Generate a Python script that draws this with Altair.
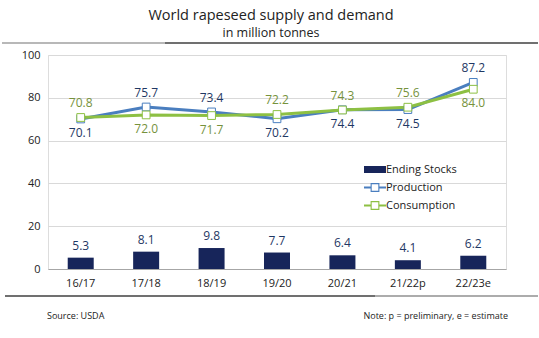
import altair as alt
import pandas as pd

seasons = ["16/17", "17/18", "18/19", "19/20", "20/21", "21/22p", "22/23e"]
ending_stocks = [5.3, 8.1, 9.8, 7.7, 6.4, 4.1, 6.2]
production = [70.1, 75.7, 73.4, 70.2, 74.4, 74.5, 87.2]
consumption = [70.8, 72.0, 71.7, 72.2, 74.3, 75.6, 84.0]
series_names = ["Ending Stocks", "Production", "Consumption"]
y_ticks = [0, 20, 40, 60, 80, 100]

NAVY = "#17255a"
BLUE = "#4a7ebf"
GREEN = "#8dc043"
PROD_TXT = "#1f3864"
CONS_TXT = "#76923c"
FONT = "Open Sans"

df = pd.DataFrame({
    "season": seasons,
    "stocks": ending_stocks,
    "production": production,
    "consumption": consumption,
})

base = alt.Chart(df)
X = alt.X("season:N", sort=seasons, title=None,
          scale=alt.Scale(paddingInner=0.6, paddingOuter=0.3),
          axis=alt.Axis(labelAngle=0, ticks=False, domainColor="#a6a6a6",
                        labelPadding=8, labelFontSize=11, labelFont=FONT,
                        labelColor="#222222", grid=False))
YS = alt.Scale(domain=[0, 100], nice=False)
YAX = alt.Axis(values=y_ticks, title=None, domain=False, ticks=False,
               gridColor="#d9d9d9", labelPadding=8, labelFontSize=11,
               labelFont=FONT, labelColor="#222222")

bars = base.mark_bar(color=NAVY, size=26).encode(
    x=X, y=alt.Y("stocks:Q", scale=YS, axis=YAX))
bar_txt = base.mark_text(dy=-12, baseline="middle", fontSize=12, font=FONT,
                         color=PROD_TXT).encode(
    x=alt.X("season:N", sort=seasons), y=alt.Y("stocks:Q"),
    text=alt.Text("stocks:Q", format=".1f"))

prod_line = base.mark_line(color=BLUE, strokeWidth=3).encode(
    x=alt.X("season:N", sort=seasons), y="production:Q")
cons_line = base.mark_line(color=GREEN, strokeWidth=3).encode(
    x=alt.X("season:N", sort=seasons), y="consumption:Q")
prod_pts = base.mark_point(shape="square", filled=False, fill="white",
                           stroke=BLUE, strokeWidth=1, size=60, opacity=1).encode(
    x=alt.X("season:N", sort=seasons), y="production:Q")
cons_pts = base.mark_point(shape="square", filled=False, fill="white",
                           stroke=GREEN, strokeWidth=1, size=60, opacity=1).encode(
    x=alt.X("season:N", sort=seasons), y="consumption:Q")

above = "datum.production - datum.consumption > 0.5"
below = "datum.production - datum.consumption <= 0.5"

def lbl(field, cond, dy, color):
    return base.transform_filter(cond).mark_text(
        dy=dy, baseline="middle", fontSize=12, font=FONT, color=color).encode(
        x=alt.X("season:N", sort=seasons), y=alt.Y(f"{field}:Q"),
        text=alt.Text(f"{field}:Q", format=".1f"))

prod_up = lbl("production", above, -14, PROD_TXT)
prod_dn = lbl("production", below, 14, PROD_TXT)
cons_up = lbl("consumption", below, -14, CONS_TXT)
cons_dn = lbl("consumption", above, 14, CONS_TXT)

rect_path = "M-2,-0.64H2V0.64H-2Z"
marker_path = ("M-2,-0.2H-0.8V0.2H-2Z M0.8,-0.2H2V0.2H0.8Z "
               "M-0.8,-0.8H0.8V0.8H-0.8Z M-0.6,-0.6V0.6H0.6V-0.6Z")
leg_df = pd.DataFrame({"series": series_names})
leg = alt.Legend(orient="none", legendX=321.5, legendY=109,
                 title=None, symbolSize=121, labelFontSize=11,
                 labelFont=FONT, labelColor="#222222",
                 labelOffset=5.5, rowPadding=6,
                 symbolStrokeWidth=0, padding=0,
                 direction="vertical")
legend_layer = alt.Chart(leg_df).transform_filter("false").mark_point(
    filled=True, opacity=1, strokeWidth=0).encode(
    color=alt.Color("series:N",
                    scale=alt.Scale(domain=series_names, range=[NAVY, BLUE, GREEN]),
                    legend=leg),
    shape=alt.Shape("series:N",
                    scale=alt.Scale(domain=series_names,
                                    range=[rect_path, marker_path, marker_path]),
                    legend=leg),
)

one = pd.DataFrame({"a": [0]})
def rule(x1, x2, y, color):
    return alt.Chart(one).mark_rule(color=color, strokeWidth=1.3).encode(
        x=alt.value(x1), x2=alt.value(x2), y=alt.value(y))

rules = (rule(-46, 117, -12, "#a0a0a0") + rule(117, 490, -12, "#404040")
         + rule(-43, 327, 241, "#404040") + rule(327, 490, 241, "#909090"))

src = alt.Chart(pd.DataFrame({"t": ["Source: USDA"]})).mark_text(
    align="left", baseline="middle", fontSize=9, font=FONT, color="#222222").encode(
    x=alt.value(-1), y=alt.value(261), text="t:N")
note = alt.Chart(pd.DataFrame({"t": ["Note: p = preliminary, e = estimate"]})).mark_text(
    align="right", baseline="middle", fontSize=9, font=FONT, color="#222222").encode(
    x=alt.value(460), y=alt.value(261), text="t:N")

chart = alt.layer(
    bars, bar_txt, prod_line, cons_line, prod_pts, cons_pts,
    prod_up, prod_dn, cons_up, cons_dn, legend_layer, rules, src, note
).properties(
    width=458, height=214,
    title=alt.TitleParams(text="World rapeseed supply and demand",
                          subtitle="in million tonnes", fontSize=14.5,
                          subtitleFontSize=12.5, font=FONT, subtitleFont=FONT,
                          fontWeight="normal", color="#222222",
                          subtitleColor="#222222", anchor="middle", dx=-6,
                          offset=2, subtitlePadding=3),
    autosize=alt.AutoSizeParams(type="none"),
    padding={"left": 48, "top": 55, "right": 33, "bottom": 69},
).configure_view(stroke=None).configure(background="white")

chart.save("out.html", embed_options={"renderer": "svg", "actions": False})
